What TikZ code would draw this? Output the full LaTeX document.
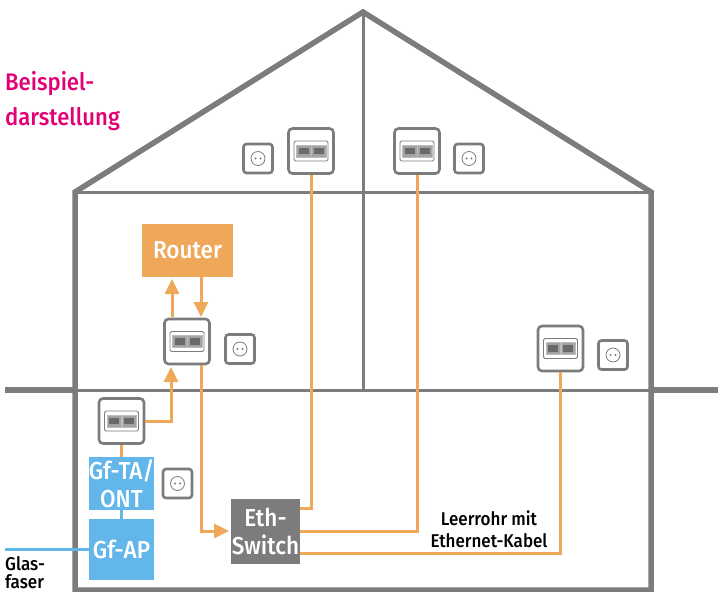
\documentclass[tikz,border=0pt]{standalone}
\usepackage{fontspec}
\setmainfont{Fira Sans}[UprightFont=* Medium,BoldFont=* Medium,FakeStretch=0.92]
\usetikzlibrary{arrows.meta}
\definecolor{wallc}{HTML}{7C7C7C}
\definecolor{cable}{HTML}{EFA85A}
\definecolor{fiber}{HTML}{62B6EA}
\definecolor{tmag}{HTML}{E20074}
\tikzset{
  wall/.style={draw=wallc,line width=5.5pt,line join=miter},
  inner wall/.style={draw=wallc,line width=3pt},
  box/.style={inner sep=0pt,align=center,text=white,font=\fontsize{24.5}{28}\selectfont},
  plate/.style={draw=wallc,line width=2.6pt,rounded corners=4pt,minimum size=45pt,inner sep=0pt,fill=white},
  socket/.style={draw=wallc,line width=2.6pt,rounded corners=3pt,minimum size=29pt,inner sep=0pt,fill=white},
  faceplate/.style={draw=wallc,line width=.8pt,fill=white,rounded corners=1.5pt,minimum width=34pt,minimum height=20pt,inner sep=0pt},
  port/.style={draw=wallc!50,fill=wallc!70,line width=.5pt,minimum width=14.5pt,minimum height=12pt,inner sep=0pt},
  portcore/.style={fill=wallc!85!black,minimum width=10pt,minimum height=6.5pt,inner sep=0pt},
  round/.style={circle,draw=wallc,line width=.8pt,minimum size=14pt,inner sep=0pt},
  pin/.style={circle,fill=wallc,minimum size=2.2pt,inner sep=0pt},
  cablel/.style={draw=cable,line width=3pt},
  cablea/.style={cablel,-{Triangle[length=15pt,width=14pt]}},
  fiberl/.style={draw=fiber,line width=3pt},
  lbl/.style={inner sep=0pt,align=center,text=black,font=\fontsize{18.5}{22}\selectfont},
  ttl/.style={anchor=base west,inner sep=0pt,text=tmag,font=\fontsize{24}{28}\selectfont},
}
\newcommand{\plateat}[2]{%
  \node[plate] (#1) at (#2) {};
  \node[faceplate] (#1f) at (#2) {};
  \node[port,xshift=-7.5pt] (#1a) at (#2) {};
  \node[port,xshift=7.5pt] (#1b) at (#2) {};
  \node[portcore,xshift=-7.5pt] (#1c) at (#2) {};
  \node[portcore,xshift=7.5pt] (#1d) at (#2) {};
}
\newcommand{\socketat}[2]{%
  \node[socket] (#1) at (#2) {};
  \node[round] (#1r) at (#2) {};
  \node[pin,xshift=-2.5pt] (#1p) at (#2) {};
  \node[pin,xshift=2.5pt] (#1q) at (#2) {};
}
\begin{document}
\begin{tikzpicture}[x=1pt,y=-1pt]
\useasboundingbox (0,0) rectangle (718,592);
% house
\draw[inner wall] (363,12) -- (363,390);
\draw[inner wall] (75,192) -- (651,192);
\draw[inner wall] (75,390) -- (651,390);
\draw[wall] (5,390) -- (75,390);
\draw[wall] (651,390) -- (718,390);
\draw[wall] (75,590) -- (75,192) -- (363,12) -- (651,192) -- (651,590) -- cycle;
% boxes
\node[box,fill=cable,minimum width=91pt,minimum height=53pt,text depth=-1.5pt] (router) at (187.5,250.5) {Router};
\node[box,fill=fiber,minimum width=65pt,minimum height=53pt] (ta) at (121.5,483.5) {Gf-TA/\\ONT};
\node[box,fill=fiber,minimum width=65pt,minimum height=61pt] (ap) at (121.5,549.5) {Gf-AP};
\node[box,fill=wallc,minimum width=69pt,minimum height=65pt] (switch) at (265.5,531.5) {Eth-\\Switch};
% outlets
\plateat{pa}{311,151}
\plateat{pb}{417,151}
\plateat{pc}{187,341.5}
\plateat{pd}{560.5,348.5}
\plateat{pe}{121.5,421}
\socketat{sa}{258,158.5}
\socketat{sb}{469,158.5}
\socketat{sc}{240,349}
\socketat{sd}{613,355}
\socketat{se}{177.5,483.5}
% anchors for offset connector ends
\coordinate (rup) at (172,279);
\coordinate (pup) at (172,317);
\coordinate (rdn) at (201,277);
\coordinate (pdn) at (201,317);
\coordinate (pcin) at (171,367);
\coordinate (pcout) at (201,365);
\coordinate (swin) at (229,531);
\coordinate (sw1) at (300,508);
\coordinate (sw2) at (300,531);
\coordinate (sw3) at (300,553);
\coordinate (fibre) at (5,549);
% connectors
\draw[cablea] (pup) -- (rup);
\draw[cablea] (rdn) -- (pdn);
\draw[cablea] (pe.east) -| (pcin);
\draw[cablea] (pcout) |- (swin);
\draw[cablel] (pa.south) |- (sw1);
\draw[cablel] (pb.south) |- (sw2);
\draw[cablel] (pd.south) |- (sw3);
\draw[cablel] (pe.south) -- (ta.north);
\draw[fiberl] (ta.south) -- (ap.north);
\draw[fiberl] (fibre) -- (ap.west |- fibre);
% labels
\node[ttl] (t1) at (5,90) {Beispiel-};
\node[ttl] (t2) at (5,125) {darstellung};
\node[lbl,anchor=base] (t3) at (489,525) {Leerrohr mit};
\node[lbl,anchor=base] (t4) at (489,547) {Ethernet-Kabel};
\node[lbl,anchor=base west] (t5) at (5,570) {Glas-};
\node[lbl,anchor=base west] (t6) at (5,588.5) {faser};
\end{tikzpicture}
\end{document}
